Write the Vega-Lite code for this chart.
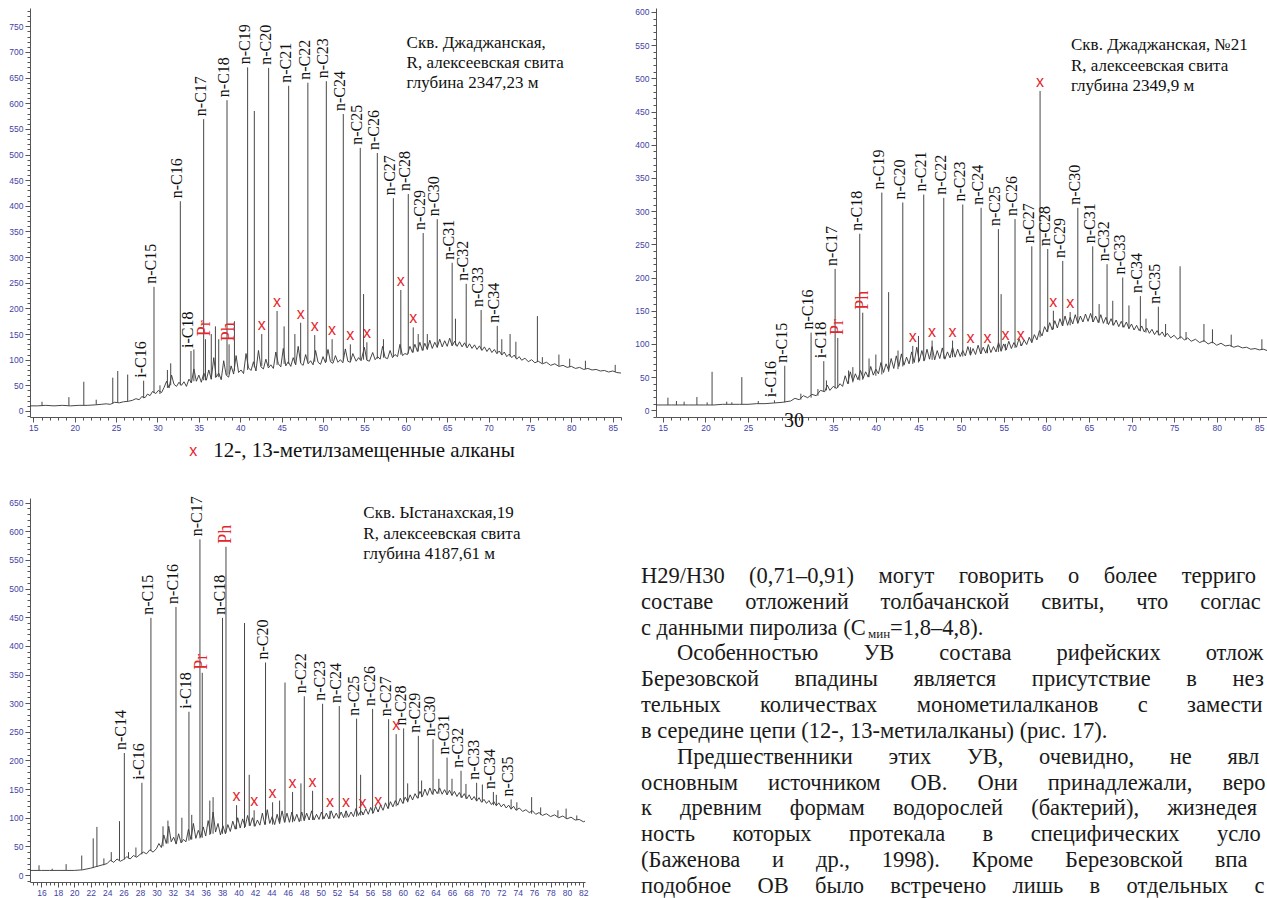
{
  "$schema": "https://vega.github.io/schema/vega-lite/v6.json",
  "background": "white",
  "padding": {"left": 8, "top": 7, "right": 0, "bottom": 0},
  "columns": 2,
  "bounds": "flush",
  "spacing": {"row": 81, "column": 35},
  "config": {
    "view": {"stroke": null},
    "axis": {"grid": false, "domainColor": "#555555", "tickColor": "#555555", "labelColor": "#3f3fa6", "labelFont": "Liberation Sans", "labelFontSize": 8.5, "domainWidth": 1, "tickWidth": 1},
    "text": {"font": "Liberation Serif, Times New Roman, DejaVu Serif, serif"}
  },
  "datasets": {
    "l1": [
      {"t":14.6,"v":10},{"t":15.5,"v":10},{"t":16.5,"v":11},{"t":17.5,"v":10},{"t":18.5,"v":11},{"t":19.5,"v":10},{"t":20.5,"v":11},{"t":21.5,"v":11},{"t":22.5,"v":12},{"t":23.2,"v":13},{"t":23.8,"v":14},{"t":24.3,"v":13},{"t":24.8,"v":17},{"t":25.4,"v":16},{"t":25.9,"v":18},{"t":26.5,"v":19},{"t":27.0,"v":21},{"t":27.4,"v":24},{"t":27.8,"v":22},{"t":28.1,"v":28},{"t":28.5,"v":26},{"t":28.8,"v":33},{"t":29.1,"v":30},{"t":29.4,"v":38},{"t":29.8,"v":34},{"t":30.1,"v":40},{"t":30.5,"v":36},{"t":30.8,"v":46},{"t":31.1,"v":58},{"t":31.4,"v":45},{"t":31.7,"v":70},{"t":32.0,"v":52},{"t":32.3,"v":48},{"t":32.6,"v":56},{"t":32.9,"v":50},{"t":33.2,"v":57},{"t":33.5,"v":48},{"t":33.8,"v":62},{"t":34.1,"v":55},{"t":34.4,"v":82},{"t":34.7,"v":58},{"t":35.0,"v":70},{"t":35.3,"v":56},{"t":35.6,"v":74},{"t":35.9,"v":60},{"t":36.2,"v":80},{"t":36.5,"v":62},{"t":36.8,"v":104},{"t":37.1,"v":66},{"t":37.4,"v":74},{"t":37.7,"v":61},{"t":38.0,"v":98},{"t":38.3,"v":70},{"t":38.6,"v":66},{"t":38.9,"v":88},{"t":39.2,"v":72},{"t":39.5,"v":108},{"t":39.8,"v":75},{"t":40.1,"v":80},{"t":40.4,"v":73},{"t":40.7,"v":112},{"t":41.0,"v":84},{"t":41.3,"v":79},{"t":41.6,"v":96},{"t":41.9,"v":78},{"t":42.2,"v":118},{"t":42.5,"v":86},{"t":42.8,"v":82},{"t":43.1,"v":101},{"t":43.4,"v":84},{"t":43.7,"v":90},{"t":44.0,"v":83},{"t":44.3,"v":115},{"t":44.6,"v":92},{"t":44.9,"v":86},{"t":45.2,"v":122},{"t":45.5,"v":88},{"t":45.8,"v":96},{"t":46.1,"v":87},{"t":46.4,"v":104},{"t":46.7,"v":90},{"t":47.0,"v":126},{"t":47.3,"v":93},{"t":47.6,"v":89},{"t":47.9,"v":110},{"t":48.2,"v":92},{"t":48.5,"v":98},{"t":48.8,"v":90},{"t":49.1,"v":118},{"t":49.4,"v":95},{"t":49.7,"v":91},{"t":50.0,"v":106},{"t":50.3,"v":94},{"t":50.6,"v":120},{"t":50.9,"v":96},{"t":51.2,"v":93},{"t":51.5,"v":108},{"t":51.8,"v":95},{"t":52.1,"v":100},{"t":52.4,"v":94},{"t":52.7,"v":121},{"t":53.0,"v":97},{"t":53.3,"v":95},{"t":53.6,"v":112},{"t":54.0,"v":97},{"t":54.3,"v":104},{"t":54.6,"v":98},{"t":55.0,"v":124},{"t":55.3,"v":99},{"t":55.6,"v":97},{"t":56.0,"v":114},{"t":56.3,"v":100},{"t":56.6,"v":106},{"t":56.9,"v":101},{"t":57.2,"v":126},{"t":57.5,"v":104},{"t":57.8,"v":102},{"t":58.1,"v":118},{"t":58.4,"v":104},{"t":58.7,"v":110},{"t":59.0,"v":106},{"t":59.3,"v":130},{"t":59.6,"v":108},{"t":59.9,"v":112},{"t":60.2,"v":110},{"t":60.5,"v":126},{"t":60.8,"v":114},{"t":61.1,"v":130},{"t":61.4,"v":116},{"t":61.7,"v":134},{"t":62.0,"v":118},{"t":62.3,"v":132},{"t":62.6,"v":120},{"t":62.9,"v":138},{"t":63.2,"v":122},{"t":63.5,"v":134},{"t":63.8,"v":124},{"t":64.1,"v":140},{"t":64.4,"v":125},{"t":64.7,"v":137},{"t":65.0,"v":126},{"t":65.3,"v":142},{"t":65.6,"v":127},{"t":65.9,"v":136},{"t":66.2,"v":126},{"t":66.5,"v":135},{"t":66.8,"v":125},{"t":67.1,"v":133},{"t":67.4,"v":123},{"t":67.7,"v":131},{"t":68.0,"v":122},{"t":68.3,"v":129},{"t":68.6,"v":120},{"t":68.9,"v":127},{"t":69.2,"v":118},{"t":69.5,"v":125},{"t":69.8,"v":116},{"t":70.1,"v":123},{"t":70.4,"v":114},{"t":70.7,"v":120},{"t":71.0,"v":112},{"t":71.3,"v":117},{"t":71.6,"v":109},{"t":71.9,"v":115},{"t":72.2,"v":106},{"t":72.5,"v":111},{"t":72.8,"v":104},{"t":73.1,"v":109},{"t":73.4,"v":101},{"t":73.7,"v":106},{"t":74.0,"v":99},{"t":74.4,"v":103},{"t":74.8,"v":96},{"t":75.2,"v":100},{"t":75.6,"v":94},{"t":76.0,"v":97},{"t":76.5,"v":92},{"t":77.0,"v":95},{"t":77.5,"v":89},{"t":78.0,"v":92},{"t":78.5,"v":87},{"t":79.0,"v":89},{"t":79.5,"v":85},{"t":80.0,"v":87},{"t":80.5,"v":83},{"t":81.0,"v":85},{"t":81.5,"v":81},{"t":82.0,"v":83},{"t":82.5,"v":80},{"t":83.0,"v":81},{"t":83.5,"v":78},{"t":84.0,"v":79},{"t":84.5,"v":76},{"t":85.0,"v":78},{"t":85.5,"v":75},{"t":86.0,"v":74}
    ],
    "k1": [
      {"t":16.05,"b":10,"h":18},{"t":19.3,"b":10,"h":27},{"t":21.1,"b":11,"h":57},{"t":22.6,"b":12,"h":22},{"t":24.6,"b":14,"h":65},{"t":25.2,"b":16,"h":78},{"t":26.4,"b":19,"h":71},
      {"t":28.33,"b":25,"h":59,"n":"i-C16","k":"n"},{"t":29.58,"b":35,"h":242,"n":"n-C15","k":"n"},{"t":30.3,"b":33,"h":50},{"t":31.2,"b":45,"h":80},{"t":31.6,"b":50,"h":93},
      {"t":32.76,"b":50,"h":409,"n":"n-C16","k":"n"},{"t":34.05,"b":55,"h":117,"n":"i-C18","k":"n"},{"t":34.4,"b":58,"h":120},
      {"t":35.58,"b":60,"h":569,"n":"n-C17","k":"n"},{"t":35.8,"b":60,"h":140,"n":"Pr","k":"r"},{"t":36.5,"b":62,"h":150},{"t":37.0,"b":65,"h":165},{"t":37.4,"b":66,"h":140},
      {"t":38.4,"b":70,"h":606,"n":"n-C18","k":"n"},{"t":38.65,"b":72,"h":130,"n":"Ph","k":"r"},{"t":39.3,"b":78,"h":175},
      {"t":40.89,"b":80,"h":670,"n":"n-C19","k":"n"},{"t":41.7,"b":85,"h":585},{"t":42.6,"b":88,"h":150,"k":"x"},
      {"t":43.43,"b":88,"h":669,"n":"n-C20","k":"n"},{"t":44.45,"b":90,"h":195,"k":"x"},{"t":45.3,"b":92,"h":165},
      {"t":45.85,"b":92,"h":634,"n":"n-C21","k":"n"},{"t":46.6,"b":93,"h":150},{"t":47.3,"b":94,"h":172,"k":"x"},
      {"t":48.17,"b":95,"h":640,"n":"n-C22","k":"n"},{"t":49.0,"b":96,"h":148,"k":"x"},
      {"t":50.4,"b":96,"h":643,"n":"n-C23","k":"n"},{"t":51.1,"b":97,"h":140,"k":"x"},
      {"t":52.45,"b":98,"h":579,"n":"n-C24","k":"n"},{"t":53.3,"b":98,"h":130,"k":"x"},
      {"t":54.5,"b":100,"h":513,"n":"n-C25","k":"n"},{"t":54.9,"b":100,"h":228},{"t":55.3,"b":100,"h":134,"k":"x"},
      {"t":56.56,"b":102,"h":503,"n":"n-C26","k":"n"},{"t":57.3,"b":104,"h":140},
      {"t":58.5,"b":106,"h":415,"n":"n-C27","k":"n"},{"t":59.4,"b":110,"h":236,"k":"x"},
      {"t":60.3,"b":112,"h":423,"n":"n-C28","k":"n"},{"t":60.9,"b":114,"h":163,"k":"x"},{"t":61.5,"b":116,"h":150},
      {"t":62.1,"b":118,"h":347,"n":"n-C29","k":"n"},{"t":62.6,"b":120,"h":150},
      {"t":63.8,"b":124,"h":374,"n":"n-C30","k":"n"},{"t":65.6,"b":128,"h":289,"n":"n-C31","k":"n"},{"t":66.0,"b":128,"h":180},
      {"t":67.3,"b":126,"h":248,"n":"n-C32","k":"n"},{"t":69.1,"b":120,"h":197,"n":"n-C33","k":"n"},
      {"t":71.05,"b":112,"h":166,"n":"n-C34","k":"n"},{"t":71.6,"b":110,"h":140},{"t":72.6,"b":106,"h":150},{"t":73.3,"b":103,"h":135},
      {"t":75.9,"b":96,"h":185},{"t":76.5,"b":93,"h":105},{"t":78.5,"b":88,"h":110},{"t":79.8,"b":86,"h":102},{"t":81.7,"b":82,"h":98},{"t":85.3,"b":76,"h":90}
    ],
    "l2": [
      {"t":14.2,"v":8},{"t":15,"v":8},{"t":16,"v":8},{"t":17,"v":8},{"t":18,"v":8},{"t":19,"v":8},{"t":20,"v":8},{"t":21,"v":8},{"t":22,"v":9},{"t":23,"v":9},{"t":24,"v":9},{"t":25,"v":9},{"t":26,"v":10},{"t":27,"v":10},{"t":28,"v":11},{"t":29,"v":12},{"t":30,"v":14},{"t":30.5,"v":18},{"t":31,"v":16},{"t":31.5,"v":22},{"t":32,"v":19},{"t":32.5,"v":24},{"t":33,"v":22},{"t":33.5,"v":30},{"t":34,"v":28},{"t":34.3,"v":38},{"t":34.6,"v":30},{"t":35,"v":36},{"t":35.4,"v":33},{"t":35.8,"v":40},{"t":36.1,"v":36},{"t":36.4,"v":52},{"t":36.7,"v":40},{"t":37,"v":58},{"t":37.3,"v":44},{"t":37.6,"v":55},{"t":37.9,"v":46},{"t":38.2,"v":60},{"t":38.5,"v":48},{"t":38.8,"v":58},{"t":39.1,"v":50},{"t":39.4,"v":66},{"t":39.7,"v":53},{"t":40,"v":62},{"t":40.3,"v":55},{"t":40.6,"v":72},{"t":40.9,"v":57},{"t":41.2,"v":70},{"t":41.5,"v":60},{"t":41.8,"v":78},{"t":42.1,"v":63},{"t":42.4,"v":82},{"t":42.7,"v":66},{"t":43.0,"v":85},{"t":43.3,"v":68},{"t":43.6,"v":80},{"t":43.9,"v":70},{"t":44.2,"v":88},{"t":44.5,"v":72},{"t":44.8,"v":95},{"t":45.1,"v":74},{"t":45.4,"v":90},{"t":45.7,"v":75},{"t":46.0,"v":92},{"t":46.3,"v":77},{"t":46.6,"v":96},{"t":46.9,"v":76},{"t":47.2,"v":90},{"t":47.5,"v":78},{"t":47.8,"v":94},{"t":48.1,"v":77},{"t":48.4,"v":88},{"t":48.7,"v":79},{"t":49.0,"v":95},{"t":49.3,"v":80},{"t":49.6,"v":92},{"t":49.9,"v":81},{"t":50.2,"v":90},{"t":50.5,"v":82},{"t":50.8,"v":96},{"t":51.1,"v":83},{"t":51.4,"v":93},{"t":51.7,"v":84},{"t":52.0,"v":98},{"t":52.3,"v":85},{"t":52.6,"v":95},{"t":52.9,"v":86},{"t":53.2,"v":99},{"t":53.5,"v":87},{"t":53.8,"v":96},{"t":54.1,"v":88},{"t":54.4,"v":102},{"t":54.7,"v":89},{"t":55.0,"v":100},{"t":55.3,"v":91},{"t":55.6,"v":104},{"t":55.9,"v":93},{"t":56.2,"v":102},{"t":56.5,"v":95},{"t":56.8,"v":108},{"t":57.1,"v":97},{"t":57.4,"v":106},{"t":57.7,"v":99},{"t":58.0,"v":110},{"t":58.3,"v":102},{"t":58.6,"v":114},{"t":58.9,"v":106},{"t":59.2,"v":120},{"t":59.5,"v":112},{"t":59.8,"v":126},{"t":60.1,"v":118},{"t":60.4,"v":132},{"t":60.7,"v":121},{"t":61.0,"v":135},{"t":61.3,"v":124},{"t":61.6,"v":138},{"t":61.9,"v":127},{"t":62.2,"v":142},{"t":62.5,"v":128},{"t":62.8,"v":140},{"t":63.1,"v":130},{"t":63.4,"v":144},{"t":63.7,"v":131},{"t":64.0,"v":142},{"t":64.3,"v":133},{"t":64.6,"v":145},{"t":64.9,"v":134},{"t":65.2,"v":146},{"t":65.5,"v":133},{"t":65.8,"v":142},{"t":66.1,"v":132},{"t":66.4,"v":144},{"t":66.7,"v":131},{"t":67.0,"v":140},{"t":67.3,"v":129},{"t":67.6,"v":138},{"t":67.9,"v":128},{"t":68.2,"v":136},{"t":68.5,"v":126},{"t":68.8,"v":134},{"t":69.1,"v":125},{"t":69.4,"v":133},{"t":69.7,"v":123},{"t":70.0,"v":130},{"t":70.3,"v":121},{"t":70.6,"v":128},{"t":70.9,"v":120},{"t":71.2,"v":127},{"t":71.5,"v":118},{"t":71.8,"v":124},{"t":72.1,"v":116},{"t":72.4,"v":122},{"t":72.7,"v":114},{"t":73.0,"v":120},{"t":73.3,"v":113},{"t":73.6,"v":118},{"t":73.9,"v":111},{"t":74.2,"v":116},{"t":74.6,"v":109},{"t":75.0,"v":113},{"t":75.4,"v":107},{"t":75.8,"v":111},{"t":76.2,"v":106},{"t":76.6,"v":109},{"t":77,"v":104},{"t":77.5,"v":107},{"t":78,"v":102},{"t":78.5,"v":105},{"t":79,"v":100},{"t":79.5,"v":103},{"t":80,"v":98},{"t":80.5,"v":101},{"t":81,"v":97},{"t":81.5,"v":98},{"t":82,"v":95},{"t":82.5,"v":97},{"t":83,"v":94},{"t":83.5,"v":95},{"t":84,"v":92},{"t":84.5,"v":93},{"t":85,"v":91},{"t":85.5,"v":92},{"t":85.9,"v":90}
    ],
    "k2": [
      {"t":15.6,"b":8,"h":19},{"t":16.6,"b":8,"h":14},{"t":17.5,"b":8,"h":13},{"t":19.0,"b":8,"h":20},{"t":20.2,"b":8,"h":12},{"t":20.78,"b":8,"h":58},{"t":22.5,"b":9,"h":13},{"t":23.1,"b":9,"h":12},{"t":24.27,"b":9,"h":50},{"t":26.2,"b":10,"h":14},
      {"t":28.1,"b":11,"h":15,"n":"i-C16","k":"n"},{"t":29.31,"b":12,"h":67,"n":"n-C15","k":"n"},{"t":31.2,"b":16,"h":25},
      {"t":32.4,"b":19,"h":117,"n":"n-C16","k":"n"},{"t":33.2,"b":22,"h":32},{"t":33.89,"b":28,"h":74,"n":"i-C18","k":"n"},{"t":34.2,"b":30,"h":45},
      {"t":35.22,"b":33,"h":213,"n":"n-C17","k":"n"},{"t":35.53,"b":34,"h":109,"n":"Pr","k":"r"},{"t":36.8,"b":40,"h":60},{"t":37.3,"b":42,"h":65},
      {"t":38.11,"b":45,"h":266,"n":"n-C18","k":"n"},{"t":38.46,"b":46,"h":147,"n":"Ph","k":"r"},{"t":39.2,"b":50,"h":78},{"t":40.0,"b":52,"h":84},
      {"t":40.7,"b":54,"h":328,"n":"n-C19","k":"n"},{"t":41.5,"b":58,"h":178},{"t":42.6,"b":62,"h":90},
      {"t":43.16,"b":66,"h":313,"n":"n-C20","k":"n"},{"t":44.33,"b":70,"h":97,"k":"x"},{"t":45.0,"b":72,"h":112},
      {"t":45.62,"b":74,"h":325,"n":"n-C21","k":"n"},{"t":46.6,"b":76,"h":105,"k":"x"},
      {"t":47.97,"b":78,"h":320,"n":"n-C22","k":"n"},{"t":49.0,"b":80,"h":105,"k":"x"},
      {"t":50.2,"b":81,"h":310,"n":"n-C23","k":"n"},{"t":51.1,"b":83,"h":95,"k":"x"},
      {"t":52.35,"b":85,"h":305,"n":"n-C24","k":"n"},{"t":53.1,"b":86,"h":95,"k":"x"},
      {"t":54.38,"b":88,"h":273,"n":"n-C25","k":"n"},{"t":54.7,"b":89,"h":175},{"t":55.2,"b":90,"h":100,"k":"x"},
      {"t":56.33,"b":94,"h":288,"n":"n-C26","k":"n"},{"t":57.0,"b":97,"h":100,"k":"x"},
      {"t":58.3,"b":102,"h":247,"n":"n-C27","k":"n"},{"t":59.27,"b":110,"h":481,"k":"x"},
      {"t":60.17,"b":118,"h":243,"n":"n-C28","k":"n"},{"t":60.83,"b":122,"h":150,"k":"x"},
      {"t":61.93,"b":127,"h":225,"n":"n-C29","k":"n"},{"t":62.8,"b":128,"h":148,"k":"x"},
      {"t":63.7,"b":131,"h":305,"n":"n-C30","k":"n"},{"t":65.45,"b":133,"h":247,"n":"n-C31","k":"n"},{"t":66.2,"b":132,"h":160},
      {"t":67.13,"b":130,"h":220,"n":"n-C32","k":"n"},{"t":67.8,"b":128,"h":165},
      {"t":68.97,"b":125,"h":200,"n":"n-C33","k":"n"},{"t":69.7,"b":123,"h":158},
      {"t":71.04,"b":119,"h":172,"n":"n-C34","k":"n"},{"t":71.7,"b":117,"h":138},
      {"t":73.15,"b":113,"h":156,"n":"n-C35","k":"n"},{"t":74.0,"b":111,"h":130},
      {"t":75.7,"b":108,"h":217},{"t":76.4,"b":106,"h":118},{"t":78.5,"b":103,"h":130},{"t":79.5,"b":101,"h":122},{"t":81.7,"b":96,"h":114},{"t":85.3,"b":91,"h":107}
    ],
    "l3": [
      {"t":14.6,"v":8},{"t":16,"v":8},{"t":17,"v":8},{"t":18,"v":8},{"t":19,"v":8},{"t":20,"v":8},{"t":21,"v":9},{"t":22,"v":12},{"t":22.5,"v":14},{"t":23,"v":16},{"t":23.5,"v":18},{"t":24,"v":20},{"t":24.4,"v":26},{"t":24.8,"v":22},{"t":25.2,"v":28},{"t":25.6,"v":24},{"t":26,"v":27},{"t":26.4,"v":32},{"t":26.8,"v":28},{"t":27.2,"v":34},{"t":27.6,"v":31},{"t":28,"v":36},{"t":28.4,"v":40},{"t":28.8,"v":37},{"t":29.2,"v":44},{"t":29.6,"v":40},{"t":30.0,"v":46},{"t":30.3,"v":55},{"t":30.6,"v":48},{"t":30.9,"v":70},{"t":31.2,"v":55},{"t":31.5,"v":85},{"t":31.8,"v":58},{"t":32.1,"v":66},{"t":32.4,"v":54},{"t":32.7,"v":72},{"t":33.0,"v":56},{"t":33.3,"v":62},{"t":33.6,"v":58},{"t":33.9,"v":80},{"t":34.2,"v":62},{"t":34.5,"v":90},{"t":34.8,"v":64},{"t":35.1,"v":78},{"t":35.4,"v":66},{"t":35.7,"v":84},{"t":36.0,"v":68},{"t":36.3,"v":95},{"t":36.6,"v":72},{"t":36.9,"v":110},{"t":37.2,"v":75},{"t":37.5,"v":90},{"t":37.8,"v":70},{"t":38.1,"v":86},{"t":38.4,"v":72},{"t":38.7,"v":88},{"t":39.0,"v":76},{"t":39.3,"v":94},{"t":39.6,"v":80},{"t":39.9,"v":100},{"t":40.2,"v":82},{"t":40.5,"v":98},{"t":40.8,"v":84},{"t":41.1,"v":104},{"t":41.4,"v":86},{"t":41.7,"v":100},{"t":42.0,"v":85},{"t":42.3,"v":96},{"t":42.6,"v":87},{"t":42.9,"v":108},{"t":43.2,"v":88},{"t":43.5,"v":114},{"t":43.8,"v":90},{"t":44.1,"v":102},{"t":44.4,"v":88},{"t":44.7,"v":106},{"t":45.0,"v":90},{"t":45.3,"v":112},{"t":45.6,"v":92},{"t":45.9,"v":108},{"t":46.2,"v":92},{"t":46.5,"v":110},{"t":46.8,"v":94},{"t":47.1,"v":106},{"t":47.4,"v":93},{"t":47.7,"v":110},{"t":48.0,"v":95},{"t":48.3,"v":108},{"t":48.6,"v":96},{"t":48.9,"v":112},{"t":49.2,"v":96},{"t":49.5,"v":106},{"t":49.8,"v":97},{"t":50.1,"v":110},{"t":50.4,"v":98},{"t":50.7,"v":108},{"t":51.0,"v":98},{"t":51.3,"v":112},{"t":51.6,"v":99},{"t":51.9,"v":108},{"t":52.2,"v":99},{"t":52.5,"v":110},{"t":52.8,"v":100},{"t":53.1,"v":112},{"t":53.4,"v":101},{"t":53.7,"v":110},{"t":54.0,"v":102},{"t":54.3,"v":116},{"t":54.6,"v":104},{"t":54.9,"v":112},{"t":55.2,"v":105},{"t":55.5,"v":116},{"t":55.8,"v":106},{"t":56.1,"v":118},{"t":56.4,"v":108},{"t":56.7,"v":120},{"t":57.0,"v":110},{"t":57.3,"v":122},{"t":57.6,"v":113},{"t":57.9,"v":126},{"t":58.2,"v":116},{"t":58.5,"v":128},{"t":58.8,"v":119},{"t":59.1,"v":130},{"t":59.4,"v":122},{"t":59.7,"v":134},{"t":60.0,"v":125},{"t":60.3,"v":136},{"t":60.6,"v":128},{"t":60.9,"v":140},{"t":61.2,"v":131},{"t":61.5,"v":142},{"t":61.8,"v":134},{"t":62.1,"v":146},{"t":62.4,"v":137},{"t":62.7,"v":150},{"t":63.0,"v":139},{"t":63.3,"v":152},{"t":63.6,"v":141},{"t":63.9,"v":150},{"t":64.2,"v":142},{"t":64.5,"v":152},{"t":64.8,"v":141},{"t":65.1,"v":149},{"t":65.4,"v":140},{"t":65.7,"v":148},{"t":66.0,"v":139},{"t":66.3,"v":146},{"t":66.6,"v":137},{"t":66.9,"v":144},{"t":67.2,"v":135},{"t":67.5,"v":142},{"t":67.8,"v":133},{"t":68.1,"v":140},{"t":68.4,"v":131},{"t":68.7,"v":137},{"t":69.0,"v":129},{"t":69.3,"v":135},{"t":69.6,"v":127},{"t":69.9,"v":132},{"t":70.2,"v":125},{"t":70.5,"v":130},{"t":70.8,"v":123},{"t":71.1,"v":128},{"t":71.4,"v":121},{"t":71.7,"v":126},{"t":72.0,"v":119},{"t":72.3,"v":124},{"t":72.6,"v":117},{"t":72.9,"v":122},{"t":73.2,"v":115},{"t":73.5,"v":120},{"t":73.8,"v":113},{"t":74.2,"v":117},{"t":74.6,"v":111},{"t":75.0,"v":114},{"t":75.4,"v":109},{"t":75.8,"v":112},{"t":76.2,"v":106},{"t":76.6,"v":109},{"t":77.0,"v":104},{"t":77.5,"v":107},{"t":78.0,"v":102},{"t":78.5,"v":105},{"t":79.0,"v":100},{"t":79.5,"v":103},{"t":80.0,"v":98},{"t":80.5,"v":101},{"t":81.0,"v":96},{"t":81.5,"v":97},{"t":82.0,"v":93},{"t":82.2,"v":94}
    ],
    "k3": [
      {"t":15.7,"b":8,"h":17},{"t":17.3,"b":8,"h":11},{"t":19.0,"b":8,"h":19},{"t":20.9,"b":9,"h":34},{"t":22.3,"b":12,"h":64},{"t":22.75,"b":14,"h":84},{"t":23.6,"b":17,"h":29},{"t":24.5,"b":24,"h":40},{"t":25.5,"b":25,"h":94},
      {"t":26.09,"b":27,"h":213,"n":"n-C14","k":"n"},{"t":26.6,"b":29,"h":40},{"t":27.5,"b":32,"h":48},
      {"t":28.23,"b":36,"h":161,"n":"i-C16","k":"n"},{"t":29.33,"b":42,"h":449,"n":"n-C15","k":"n"},{"t":30.8,"b":50,"h":85},{"t":31.4,"b":55,"h":95},
      {"t":32.38,"b":55,"h":468,"n":"n-C16","k":"n"},{"t":33.1,"b":57,"h":100},{"t":33.96,"b":60,"h":285,"n":"i-C18","k":"n"},{"t":34.3,"b":62,"h":105},
      {"t":35.3,"b":64,"h":586,"n":"n-C17","k":"n"},{"t":35.58,"b":65,"h":353,"n":"Pr","k":"r"},{"t":36.5,"b":70,"h":130},{"t":36.9,"b":72,"h":136},
      {"t":38.05,"b":72,"h":449,"n":"n-C18","k":"n"},{"t":38.47,"b":74,"h":573,"n":"Ph","k":"r"},{"t":39.76,"b":80,"h":122,"k":"x"},
      {"t":40.73,"b":82,"h":440},{"t":41.3,"b":86,"h":175},{"t":41.9,"b":85,"h":113,"k":"x"},
      {"t":43.29,"b":88,"h":371,"n":"n-C20","k":"n"},{"t":44.15,"b":88,"h":127,"k":"x"},{"t":45.0,"b":90,"h":130},
      {"t":45.66,"b":92,"h":336},{"t":46.58,"b":92,"h":145,"k":"x"},{"t":47.6,"b":94,"h":160},
      {"t":48.01,"b":95,"h":312,"n":"n-C22","k":"n"},{"t":49.02,"b":96,"h":147,"k":"x"},
      {"t":50.24,"b":97,"h":299,"n":"n-C23","k":"n"},{"t":51.14,"b":98,"h":112,"k":"x"},
      {"t":52.27,"b":99,"h":295,"n":"n-C24","k":"n"},{"t":53.09,"b":100,"h":112,"k":"x"},
      {"t":54.38,"b":102,"h":273,"n":"n-C25","k":"n"},{"t":54.87,"b":104,"h":175},{"t":55.11,"b":105,"h":110,"k":"x"},
      {"t":56.33,"b":107,"h":290,"n":"n-C26","k":"n"},{"t":57.03,"b":110,"h":114,"k":"x"},
      {"t":58.28,"b":116,"h":272,"n":"n-C27","k":"n"},{"t":59.2,"b":120,"h":246,"k":"x"},
      {"t":60.11,"b":125,"h":256,"n":"n-C28","k":"n"},{"t":60.6,"b":127,"h":160},
      {"t":61.9,"b":134,"h":243,"n":"n-C29","k":"n"},{"t":62.3,"b":136,"h":165},
      {"t":63.69,"b":140,"h":237,"n":"n-C30","k":"n"},{"t":64.4,"b":142,"h":168},
      {"t":65.4,"b":140,"h":205,"n":"n-C31","k":"n"},{"t":66.0,"b":139,"h":168},
      {"t":67.1,"b":135,"h":182,"n":"n-C32","k":"n"},{"t":67.7,"b":133,"h":159},
      {"t":69.0,"b":129,"h":161,"n":"n-C33","k":"n"},{"t":69.7,"b":127,"h":158},
      {"t":71.04,"b":122,"h":145,"n":"n-C34","k":"n"},{"t":71.4,"b":121,"h":140},
      {"t":73.2,"b":115,"h":132,"n":"n-C35","k":"n"},{"t":73.9,"b":113,"h":127},
      {"t":75.7,"b":107,"h":136},{"t":76.8,"b":105,"h":118},{"t":78.9,"b":101,"h":113},{"t":79.9,"b":99,"h":116},{"t":81.2,"b":96,"h":104}
    ],
    "para": [
      {"ln":1,"x":0,"s":"H29/H30\u2003\u200a(0,71–0,91)\u2003\u200aмогут\u2003\u200aговорить\u2003\u200aо\u2003\u200aболее\u2003\u200aтерриго"},
      {"ln":2,"x":0,"s":"составе\u2003\u2005\u2006отложений\u2003\u2005\u2006толбачанской\u2003\u2005\u2006свиты,\u2003\u2005\u2006что\u2003\u2005\u2006соглас"},
      {"ln":3,"x":0,"s":"с данными пиролиза (С"},
      {"ln":3,"x":11.07,"s":"=1,8–4,8)."},
      {"ln":5,"x":0,"s":"Березовской\u2003\u2004\u2005впадины\u2003\u2004\u2005является\u2003\u2004\u2005присутствие\u2003\u2004\u2005в\u2003\u2004\u2005нез"},
      {"ln":6,"x":0,"s":"тельных\u2003\u2002\u2005количествах\u2003\u2002\u2005монометилалканов\u2003\u2002\u2005с\u2003\u2002\u2005замести"},
      {"ln":7,"x":0,"s":"в середине цепи (12-, 13-метилалканы) (рис. 17)."},
      {"ln":9,"x":0,"s":"основным\u2003\u2004источником\u2003\u2004ОВ.\u2003\u2004Они\u2003\u2004принадлежали,\u2003\u2004веро"},
      {"ln":10,"x":0,"s":"к\u2003\u2005древним\u2003\u2005формам\u2003\u2005водорослей\u2003\u2005(бактерий),\u2003\u2005жизнедея"},
      {"ln":11,"x":0,"s":"ность\u2003\u2002\u2006которых\u2003\u2002\u2006протекала\u2003\u2002\u2006в\u2003\u2002\u2006специфических\u2003\u2002\u2006усло"},
      {"ln":12,"x":0,"s":"(Баженова\u2003\u2005\u2006и\u2003\u2005\u2006др.,\u2003\u2005\u20061998).\u2003\u2005\u2006Кроме\u2003\u2005\u2006Березовской\u2003\u2005\u2006впа"},
      {"ln":13,"x":0,"s":"подобное\u2003\u2006ОВ\u2003\u2006было\u2003\u2006встречено\u2003\u2006лишь\u2003\u2006в\u2003\u2006отдельных\u2003\u2006с"}
    ],
    "paraind": [
      {"ln":4,"x":1.6,"s":"Особенностью\u2003\u2003УВ\u2003\u2003состава\u2003\u2003рифейских\u2003\u2003отлож"},
      {"ln":8,"x":1.6,"s":"Предшественники\u2003\u2004\u2005этих\u2003\u2004\u2005УВ,\u2003\u2004\u2005очевидно,\u2003\u2004\u2005не\u2003\u2004\u2005явл"}
    ]
  },
  "concat": [
    {
      "width": 591,
      "height": 409,
      "resolve": {"axis": {"x": "independent", "y": "independent"}},
      "layer": [
        {
          "data": {"name": "l1"},
          "mark": {"type": "line", "color": "#333333", "strokeWidth": 0.9},
          "encoding": {
            "x": {"field": "t", "type": "quantitative", "scale": {"domain": [14.6, 86], "nice": false, "zero": false},
                  "axis": {"orient": "bottom", "title": null, "values": [15,20,25,30,35,40,45,50,55,60,65,70,75,80,85], "tickSize": 5, "labelPadding": 1, "labelFlush": false, "labelOverlap": false}},
            "y": {"field": "v", "type": "quantitative", "scale": {"domain": [-11.7, 785.7], "nice": false, "zero": false},
                  "axis": {"orient": "left", "title": null, "values": [0,50,100,150,200,250,300,350,400,450,500,550,600,650,700,750], "tickSize": 5, "labelPadding": 2, "labelOverlap": false}}
          }
        },
        {
          "data": {"name": "k1"},
          "mark": {"type": "rule", "color": "#474747", "strokeWidth": 1},
          "encoding": {
            "x": {"field": "t", "type": "quantitative", "scale": {"domain": [14.6, 86], "nice": false, "zero": false},
                  "axis": {"orient": "bottom", "title": null, "labels": false, "domain": false, "tickSize": 3, "values": [15,16,17,18,19,20,21,22,23,24,25,26,27,28,29,30,31,32,33,34,35,36,37,38,39,40,41,42,43,44,45,46,47,48,49,50,51,52,53,54,55,56,57,58,59,60,61,62,63,64,65,66,67,68,69,70,71,72,73,74,75,76,77,78,79,80,81,82,83,84,85,86]}},
            "y": {"field": "b", "type": "quantitative", "scale": {"domain": [-11.7, 785.7], "nice": false, "zero": false},
                  "axis": {"orient": "left", "title": null, "labels": false, "domain": false, "tickSize": 3, "values": [-10,0,10,20,30,40,50,60,70,80,90,100,110,120,130,140,150,160,170,180,190,200,210,220,230,240,250,260,270,280,290,300,310,320,330,340,350,360,370,380,390,400,410,420,430,440,450,460,470,480,490,500,510,520,530,540,550,560,570,580,590,600,610,620,630,640,650,660,670,680,690,700,710,720,730,740,750,760,770,780]}},
            "y2": {"field": "h"}
          }
        },
        {
          "data": {"name": "k1"},
          "transform": [{"filter": "datum.k == 'n'"}],
          "mark": {"type": "text", "angle": -90, "align": "left", "baseline": "middle", "dx": 3, "dy": -3, "fontSize": 16, "color": "#111111"},
          "encoding": {"x": {"field": "t", "type": "quantitative", "axis": null}, "y": {"field": "h", "type": "quantitative", "axis": null}, "text": {"field": "n"}}
        },
        {
          "data": {"name": "k1"},
          "transform": [{"filter": "datum.k == 'r'"}],
          "mark": {"type": "text", "angle": -90, "align": "left", "baseline": "middle", "dx": 3, "dy": 0, "fontSize": 18, "color": "#e3262b"},
          "encoding": {"x": {"field": "t", "type": "quantitative", "axis": null}, "y": {"field": "h", "type": "quantitative", "axis": null}, "text": {"field": "n"}}
        },
        {
          "data": {"name": "k1"},
          "transform": [{"filter": "datum.k == 'x'"}],
          "mark": {"type": "text", "baseline": "middle", "align": "center", "dy": -9, "font": "Liberation Sans", "fontSize": 16, "color": "#e3262b"},
          "encoding": {"x": {"field": "t", "type": "quantitative", "axis": null}, "y": {"field": "h", "type": "quantitative", "axis": null}, "text": {"value": "x"}}
        },
        {
          "data": {"values": [
            {"t": 60.1, "v": 717, "s": "Скв. Джаджанская,"},
            {"t": 60.1, "v": 678, "s": "R, алексеевская свита"},
            {"t": 60.1, "v": 639, "s": "глубина 2347,23 м"}
          ]},
          "mark": {"type": "text", "align": "left", "baseline": "middle", "fontSize": 17, "color": "#111111"},
          "encoding": {"x": {"field": "t", "type": "quantitative", "axis": null}, "y": {"field": "v", "type": "quantitative", "axis": null}, "text": {"field": "s"}}
        },
        {
          "data": {"values": [{"t": 34.33, "v": -78, "s": "x"}]},
          "mark": {"type": "text", "align": "center", "baseline": "middle", "font": "Liberation Sans", "fontSize": 16, "color": "#e3262b"},
          "encoding": {"x": {"field": "t", "type": "quantitative", "axis": null}, "y": {"field": "v", "type": "quantitative", "axis": null}, "text": {"field": "s"}}
        },
        {
          "data": {"values": [{"t": 36.75, "v": -78, "s": "12-, 13-метилзамещенные алканы"}]},
          "mark": {"type": "text", "align": "left", "baseline": "middle", "fontSize": 21, "color": "#111111"},
          "encoding": {"x": {"field": "t", "type": "quantitative", "axis": null}, "y": {"field": "v", "type": "quantitative", "axis": null}, "text": {"field": "s"}}
        }
      ]
    },
    {
      "width": 611,
      "height": 409,
      "resolve": {"axis": {"x": "independent", "y": "independent"}},
      "layer": [
        {
          "data": {"name": "l2"},
          "mark": {"type": "line", "color": "#333333", "strokeWidth": 0.9},
          "encoding": {
            "x": {"field": "t", "type": "quantitative", "scale": {"domain": [14.2, 85.9], "nice": false, "zero": false},
                  "axis": {"orient": "bottom", "title": null, "values": [15,20,25,35,40,45,50,55,60,65,70,75,80,85], "tickSize": 5, "labelPadding": 1, "labelFlush": false, "labelOverlap": false}},
            "y": {"field": "v", "type": "quantitative", "scale": {"domain": [-10.1, 606], "nice": false, "zero": false},
                  "axis": {"orient": "left", "title": null, "values": [0,50,100,150,200,250,300,350,400,450,500,550,600], "tickSize": 5, "labelPadding": 2, "labelOverlap": false}}
          }
        },
        {
          "data": {"name": "k2"},
          "mark": {"type": "rule", "color": "#474747", "strokeWidth": 1},
          "encoding": {
            "x": {"field": "t", "type": "quantitative", "scale": {"domain": [14.2, 85.9], "nice": false, "zero": false},
                  "axis": {"orient": "bottom", "title": null, "labels": false, "domain": false, "tickSize": 3, "values": [15,16,17,18,19,20,21,22,23,24,25,26,27,28,29,30,31,32,33,34,35,36,37,38,39,40,41,42,43,44,45,46,47,48,49,50,51,52,53,54,55,56,57,58,59,60,61,62,63,64,65,66,67,68,69,70,71,72,73,74,75,76,77,78,79,80,81,82,83,84,85]}},
            "y": {"field": "b", "type": "quantitative", "scale": {"domain": [-10.1, 606], "nice": false, "zero": false},
                  "axis": {"orient": "left", "title": null, "labels": false, "domain": false, "tickSize": 3, "values": [-10,0,10,20,30,40,50,60,70,80,90,100,110,120,130,140,150,160,170,180,190,200,210,220,230,240,250,260,270,280,290,300,310,320,330,340,350,360,370,380,390,400,410,420,430,440,450,460,470,480,490,500,510,520,530,540,550,560,570,580,590,600]}},
            "y2": {"field": "h"}
          }
        },
        {
          "data": {"name": "k2"},
          "transform": [{"filter": "datum.k == 'n'"}],
          "mark": {"type": "text", "angle": -90, "align": "left", "baseline": "middle", "dx": 3, "dy": -3, "fontSize": 16, "color": "#111111"},
          "encoding": {"x": {"field": "t", "type": "quantitative", "axis": null}, "y": {"field": "h", "type": "quantitative", "axis": null}, "text": {"field": "n"}}
        },
        {
          "data": {"name": "k2"},
          "transform": [{"filter": "datum.k == 'r'"}],
          "mark": {"type": "text", "angle": -90, "align": "left", "baseline": "middle", "dx": 3, "dy": 0, "fontSize": 18, "color": "#e3262b"},
          "encoding": {"x": {"field": "t", "type": "quantitative", "axis": null}, "y": {"field": "h", "type": "quantitative", "axis": null}, "text": {"field": "n"}}
        },
        {
          "data": {"name": "k2"},
          "transform": [{"filter": "datum.k == 'x'"}],
          "mark": {"type": "text", "baseline": "middle", "align": "center", "dy": -9, "font": "Liberation Sans", "fontSize": 16, "color": "#e3262b"},
          "encoding": {"x": {"field": "t", "type": "quantitative", "axis": null}, "y": {"field": "h", "type": "quantitative", "axis": null}, "text": {"value": "x"}}
        },
        {
          "data": {"values": [
            {"t": 62.9, "v": 551, "s": "Скв. Джаджанская, №21"},
            {"t": 62.9, "v": 518.6, "s": "R, алексеевская свита"},
            {"t": 62.9, "v": 488.5, "s": "глубина 2349,9 м"}
          ]},
          "mark": {"type": "text", "align": "left", "baseline": "middle", "fontSize": 17, "color": "#111111"},
          "encoding": {"x": {"field": "t", "type": "quantitative", "axis": null}, "y": {"field": "v", "type": "quantitative", "axis": null}, "text": {"field": "s"}}
        },
        {
          "data": {"values": [{"t": 30.4, "v": -16, "s": "30"}]},
          "mark": {"type": "text", "align": "center", "baseline": "middle", "fontSize": 20, "color": "#111111"},
          "encoding": {"x": {"field": "t", "type": "quantitative", "axis": null}, "y": {"field": "v", "type": "quantitative", "axis": null}, "text": {"field": "s"}}
        }
      ]
    },
    {
      "width": 555,
      "height": 384,
      "resolve": {"axis": {"x": "independent", "y": "independent"}},
      "layer": [
        {
          "data": {"name": "l3"},
          "mark": {"type": "line", "color": "#333333", "strokeWidth": 0.9},
          "encoding": {
            "x": {"field": "t", "type": "quantitative", "scale": {"domain": [14.6, 82.2], "nice": false, "zero": false},
                  "axis": {"orient": "bottom", "title": null, "values": [16,18,20,22,24,26,28,30,32,34,36,38,40,42,44,46,48,50,52,54,56,58,60,62,64,66,68,70,72,74,76,78,80,82], "tickSize": 5, "labelPadding": 1, "labelFlush": false, "labelOverlap": false}},
            "y": {"field": "v", "type": "quantitative", "scale": {"domain": [-12.2, 658.2], "nice": false, "zero": false},
                  "axis": {"orient": "left", "title": null, "values": [0,50,100,150,200,250,300,350,400,450,500,550,600,650], "tickSize": 5, "labelPadding": 2, "labelOverlap": false}}
          }
        },
        {
          "data": {"name": "k3"},
          "mark": {"type": "rule", "color": "#474747", "strokeWidth": 1},
          "encoding": {
            "x": {"field": "t", "type": "quantitative", "scale": {"domain": [14.6, 82.2], "nice": false, "zero": false},
                  "axis": {"orient": "bottom", "title": null, "labels": false, "domain": false, "tickSize": 3, "values": [15,15.5,16,16.5,17,17.5,18,18.5,19,19.5,20,20.5,21,21.5,22,22.5,23,23.5,24,24.5,25,25.5,26,26.5,27,27.5,28,28.5,29,29.5,30,30.5,31,31.5,32,32.5,33,33.5,34,34.5,35,35.5,36,36.5,37,37.5,38,38.5,39,39.5,40,40.5,41,41.5,42,42.5,43,43.5,44,44.5,45,45.5,46,46.5,47,47.5,48,48.5,49,49.5,50,50.5,51,51.5,52,52.5,53,53.5,54,54.5,55,55.5,56,56.5,57,57.5,58,58.5,59,59.5,60,60.5,61,61.5,62,62.5,63,63.5,64,64.5,65,65.5,66,66.5,67,67.5,68,68.5,69,69.5,70,70.5,71,71.5,72,72.5,73,73.5,74,74.5,75,75.5,76,76.5,77,77.5,78,78.5,79,79.5,80,80.5,81,81.5,82]}},
            "y": {"field": "b", "type": "quantitative", "scale": {"domain": [-12.2, 658.2], "nice": false, "zero": false},
                  "axis": {"orient": "left", "title": null, "labels": false, "domain": false, "tickSize": 3, "values": [-10,0,10,20,30,40,50,60,70,80,90,100,110,120,130,140,150,160,170,180,190,200,210,220,230,240,250,260,270,280,290,300,310,320,330,340,350,360,370,380,390,400,410,420,430,440,450,460,470,480,490,500,510,520,530,540,550,560,570,580,590,600,610,620,630,640,650]}},
            "y2": {"field": "h"}
          }
        },
        {
          "data": {"name": "k3"},
          "transform": [{"filter": "datum.k == 'n'"}],
          "mark": {"type": "text", "angle": -90, "align": "left", "baseline": "middle", "dx": 3, "dy": -3, "fontSize": 16, "color": "#111111"},
          "encoding": {"x": {"field": "t", "type": "quantitative", "axis": null}, "y": {"field": "h", "type": "quantitative", "axis": null}, "text": {"field": "n"}}
        },
        {
          "data": {"name": "k3"},
          "transform": [{"filter": "datum.k == 'r'"}],
          "mark": {"type": "text", "angle": -90, "align": "left", "baseline": "middle", "dx": 3, "dy": 0, "fontSize": 18, "color": "#e3262b"},
          "encoding": {"x": {"field": "t", "type": "quantitative", "axis": null}, "y": {"field": "h", "type": "quantitative", "axis": null}, "text": {"field": "n"}}
        },
        {
          "data": {"name": "k3"},
          "transform": [{"filter": "datum.k == 'x'"}],
          "mark": {"type": "text", "baseline": "middle", "align": "center", "dy": -9, "font": "Liberation Sans", "fontSize": 16, "color": "#e3262b"},
          "encoding": {"x": {"field": "t", "type": "quantitative", "axis": null}, "y": {"field": "h", "type": "quantitative", "axis": null}, "text": {"value": "x"}}
        },
        {
          "data": {"values": [
            {"t": 55.2, "v": 632, "s": "Скв. Ыстанахская,19"},
            {"t": 55.2, "v": 595, "s": "R, алексеевская свита"},
            {"t": 55.2, "v": 560, "s": "глубина 4187,61 м"}
          ]},
          "mark": {"type": "text", "align": "left", "baseline": "middle", "fontSize": 17, "color": "#111111"},
          "encoding": {"x": {"field": "t", "type": "quantitative", "axis": null}, "y": {"field": "v", "type": "quantitative", "axis": null}, "text": {"field": "s"}}
        }
      ]
    },
    {
      "width": 612,
      "height": 399,
      "layer": [
        {
          "data": {"name": "para"},
          "mark": {"type": "text", "align": "left", "baseline": "middle", "fontSize": 22.5, "color": "#1a1a1a", "limit": 627, "ellipsis": "\u200b"},
          "encoding": {
            "x": {"field": "x", "type": "quantitative", "scale": {"domain": [0.667, 27.867], "nice": false, "zero": false}, "axis": null},
            "y": {"field": "ln", "type": "quantitative", "scale": {"domain": [-2.02, 13.43], "nice": false, "zero": false, "reverse": true}, "axis": null},
            "text": {"field": "s"}
          }
        },
        {
          "data": {"name": "paraind"},
          "mark": {"type": "text", "align": "left", "baseline": "middle", "fontSize": 22.5, "color": "#1a1a1a", "limit": 591, "ellipsis": "\u200b"},
          "encoding": {
            "x": {"field": "x", "type": "quantitative", "axis": null},
            "y": {"field": "ln", "type": "quantitative", "axis": null},
            "text": {"field": "s"}
          }
        },
        {
          "data": {"values": [{"ln": 3, "x": 10.09, "s": "мин"}]},
          "mark": {"type": "text", "align": "left", "baseline": "middle", "dy": 6, "fontSize": 13, "color": "#1a1a1a"},
          "encoding": {
            "x": {"field": "x", "type": "quantitative", "axis": null},
            "y": {"field": "ln", "type": "quantitative", "axis": null},
            "text": {"field": "s"}
          }
        }
      ]
    }
  ]
}
